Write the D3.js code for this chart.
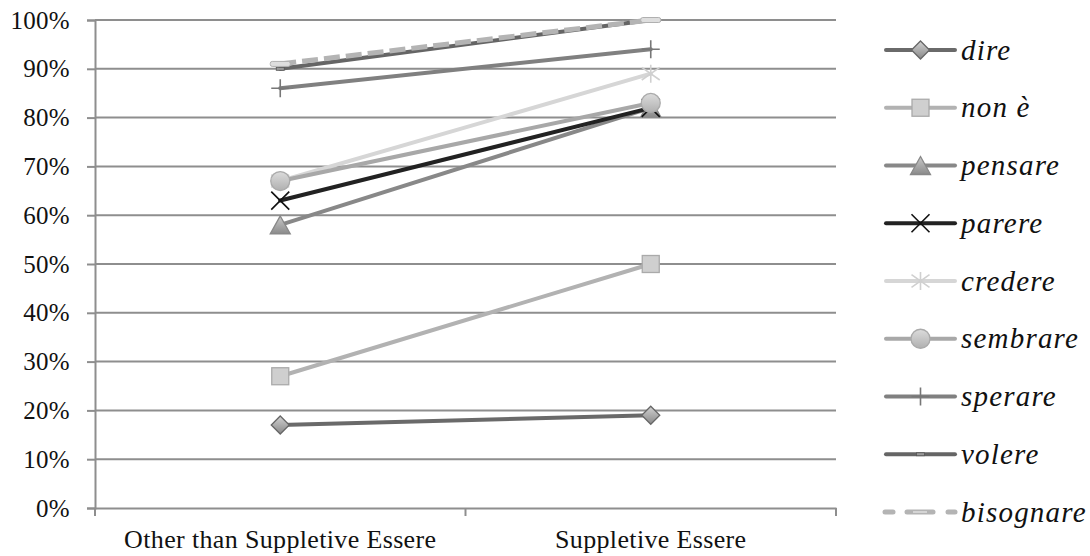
<!DOCTYPE html>
<html><head><meta charset="utf-8">
<script src="https://cdn.jsdelivr.net/npm/d3@7"></script>
<style>
body{margin:0;background:#fff;}
text{font-family:"Liberation Serif","Times New Roman",serif;}
</style></head>
<body><svg id="c" width="1090" height="556"></svg>
<script>
const categories = ["Other than Suppletive Essere", "Suppletive Essere"];
const seriesNames = ["dire","non è","pensare","parere","credere","sembrare","sperare","volere","bisognare"];
const dire = [17, 19];
const nonE = [27, 50];
const pensare = [58, 82];
const parere = [63, 82];
const credere = [67, 89];
const sembrare = [67, 83];
const sperare = [86, 94];
const volere = [90, 100];
const bisognare = [91, 100];
const yTicks = [0,10,20,30,40,50,60,70,80,90,100];

const seriesValues = [dire, nonE, pensare, parere, credere, sembrare, sperare, volere, bisognare];
const styles = [
  {color:"#6a6a6a", marker:"diamond", fill:"url(#gDia)", stroke:"#666"},
  {color:"#b2b2b2", marker:"square", fill:"#cfcfcf", stroke:"#aaa"},
  {color:"#888888", marker:"triangle", fill:"url(#gTri)", stroke:"#888"},
  {color:"#222222", marker:"x", stroke:"#111"},
  {color:"#d6d6d6", marker:"star", stroke:"#d0d0d0"},
  {color:"#a8a8a8", marker:"circle", fill:"url(#gCir)", stroke:"#aaa"},
  {color:"#808080", marker:"plus", stroke:"#777"},
  {color:"#656565", marker:"dash", stroke:"#888"},
  {color:"#b4b4b4", marker:"dash2", stroke:"#ddd", dashed:true}
];

const svg = d3.select("#c");
const defs = svg.append("defs");
function grad(id, c1, c2){
  const g = defs.append("linearGradient").attr("id",id).attr("x1",0).attr("y1",0).attr("x2",0).attr("y2",1);
  g.append("stop").attr("offset","0%").attr("stop-color",c1);
  g.append("stop").attr("offset","100%").attr("stop-color",c2);
}
grad("gDia","#d2d2d2","#888888");
grad("gTri","#cacaca","#8a8a8a");
grad("gCir","#dcdcdc","#b0b0b0");

const pL = 95, pR = 836, pT = 20, pB = 508;
const x = d3.scaleBand().domain(categories).range([pL, pR]);
const y = d3.scaleLinear().domain([0,100]).range([pB, pT]);
const cx = c => x(c) + x.bandwidth()/2;
const gridCol = "#8e8e8e";

svg.append("g").selectAll("line").data(yTicks.filter(t=>t>0)).join("line")
  .attr("x1",pL).attr("x2",pR).attr("y1",d=>y(d)).attr("y2",d=>y(d))
  .attr("stroke",gridCol).attr("stroke-width",2);

const ya = svg.append("g").attr("transform",`translate(${pL},0)`)
  .call(d3.axisLeft(y).tickValues(yTicks).tickFormat(d=>d+"%").tickSize(8).tickPadding(17));
ya.select(".domain").attr("stroke",gridCol).attr("stroke-width",2);
ya.selectAll(".tick line").attr("stroke",gridCol).attr("stroke-width",2);
ya.selectAll("text").attr("font-size",25).attr("fill","#111").attr("letter-spacing",0.3)
  .style("font-family","'Liberation Serif', serif");

const xa = svg.append("g").attr("transform",`translate(0,${pB})`)
  .call(d3.axisBottom(x).tickSize(0).tickPadding(22));
xa.select(".domain").attr("stroke",gridCol).attr("stroke-width",2);
xa.selectAll("text").attr("font-size",26).attr("fill","#111").attr("letter-spacing",0.35)
  .style("font-family","'Liberation Serif', serif");
const bounds = [pL, x(categories[1]), pR];
svg.append("g").selectAll("line").data(bounds).join("line")
  .attr("x1",d=>d).attr("x2",d=>d).attr("y1",pB).attr("y2",pB+8)
  .attr("stroke",gridCol).attr("stroke-width",2);

function drawMarker(g, st, px, py){
  const s = 9;
  switch(st.marker){
    case "diamond":
      g.append("path").attr("d",`M${px},${py-s}L${px+s},${py}L${px},${py+s}L${px-s},${py}Z`)
        .attr("fill",st.fill).attr("stroke",st.stroke).attr("stroke-width",1.3); break;
    case "square":
      g.append("rect").attr("x",px-s+0.5).attr("y",py-s+0.5).attr("width",2*s-1).attr("height",2*s-1)
        .attr("fill",st.fill).attr("stroke",st.stroke).attr("stroke-width",1.3); break;
    case "triangle":
      g.append("path").attr("d",`M${px},${py-s}L${px+s+1},${py+s}L${px-s-1},${py+s}Z`)
        .attr("fill",st.fill).attr("stroke",st.stroke).attr("stroke-width",1.3); break;
    case "x":
      g.append("path").attr("d",`M${px-s},${py-s}L${px+s},${py+s}M${px-s},${py+s}L${px+s},${py-s}`)
        .attr("stroke",st.stroke).attr("stroke-width",1.6); break;
    case "star":
      g.append("path").attr("d",`M${px-s},${py-s*0.7}L${px+s},${py+s*0.7}M${px-s},${py+s*0.7}L${px+s},${py-s*0.7}M${px},${py-s}L${px},${py+s}`)
        .attr("stroke",st.stroke).attr("stroke-width",1.6); break;
    case "circle":
      g.append("circle").attr("cx",px).attr("cy",py).attr("r",s+0.5)
        .attr("fill",st.fill).attr("stroke",st.stroke).attr("stroke-width",1.3); break;
    case "plus":
      g.append("path").attr("d",`M${px-s},${py}L${px+s},${py}M${px},${py-s}L${px},${py+s}`)
        .attr("stroke",st.stroke).attr("stroke-width",1.6); break;
    case "dash":
      g.append("rect").attr("x",px-4).attr("y",py-1.5).attr("width",8).attr("height",3)
        .attr("fill","#999").attr("stroke","#555").attr("stroke-width",0.8); break;
    case "dash2":
      g.append("rect").attr("x",px-10).attr("y",py-2.5).attr("width",20).attr("height",5).attr("rx",2)
        .attr("fill","#dedede").attr("stroke","#b0b0b0").attr("stroke-width",1); break;
  }
}

const line = d3.line().x((d,i)=>cx(categories[i])).y(d=>y(d));
seriesValues.forEach((vals, k)=>{
  const st = styles[k];
  const g = svg.append("g");
  g.append("path").datum(vals).attr("d",line).attr("fill","none")
    .attr("stroke",st.color).attr("stroke-width",st.dashed?5:4)
    .attr("stroke-dasharray",st.dashed?"16,6":null).attr("stroke-linecap",st.dashed?"butt":"round");
  vals.forEach((v,i)=>drawMarker(g, st, cx(categories[i]), y(v)));
});

const legY = d3.scaleLinear().domain([0,8]).range([50, 512]);
seriesNames.forEach((name,k)=>{
  const st = styles[k];
  const g = svg.append("g");
  const ly = legY(k);
  if(st.dashed){
    [[885,893],[907,933],[948,955]].forEach(([a,b])=>
      g.append("line").attr("x1",a).attr("x2",b).attr("y1",ly).attr("y2",ly).attr("stroke",st.color).attr("stroke-width",5).attr("stroke-linecap","round"));
    g.append("line").attr("x1",913).attr("x2",927).attr("y1",ly).attr("y2",ly).attr("stroke","#e8e8e8").attr("stroke-width",1.3);
  } else {
    g.append("line").attr("x1",886).attr("x2",955).attr("y1",ly).attr("y2",ly)
      .attr("stroke",st.color).attr("stroke-width",4).attr("stroke-linecap","round");
    drawMarker(g, st, 920.5, ly);
  }
  g.append("text").attr("x",961).attr("y",ly).attr("dy","0.33em")
    .attr("font-size",29).attr("font-style","italic").attr("fill","#111").attr("letter-spacing",1.2)
    .style("font-family","'Liberation Serif', serif").text(name);
});
</script></body></html>
